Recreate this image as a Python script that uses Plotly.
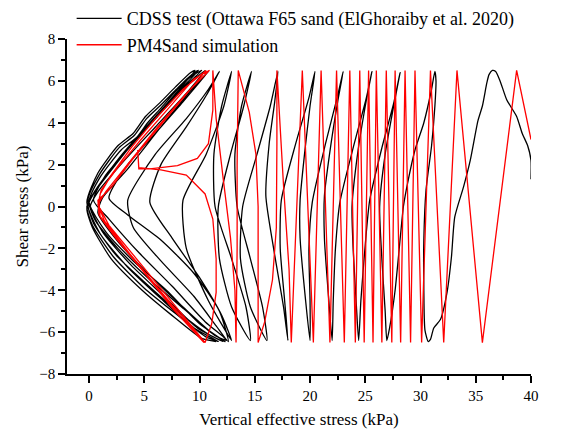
import plotly.graph_objects as go

# ---------------- CDSS test (black) ----------------
black_right_x = [40.0, 40.0, 39.7, 39.2, 38.7, 37.8, 37.2, 36.8, 36.5, 36.2, 36.0, 35.6, 35.2, 34.5, 33.9, 33.1, 32.8, 32.4, 31.8, 31.2, 30.9, 30.7,
                 30.4, 30.3, 30.3, 30.5, 31.0, 31.3, 31.4, 31.3,
                 31.0, 30.3, 29.5, 28.9, 28.45, 28.2, 27.7, 27.2, 26.95,
                 26.8, 26.5, 26.3, 26.8, 27.5, 28.15,
                 27.6, 26.5, 25.4, 25.0, 24.6, 24.4,
                 24.2, 23.9, 23.8, 24.3, 25.0, 25.6,
                 25.1, 24.0, 22.7, 22.3, 22.1, 22.0,
                 21.7, 21.3, 21.3, 21.9, 22.5, 23.0,
                 22.5, 21.4, 20.2, 19.9, 20.0, 20.0,
                 19.6, 19.1, 19.1, 19.5, 20.0, 20.45,
                 19.9, 18.7, 17.4, 17.3, 17.7, 18.0]
black_right_y = [1.3, 2.2, 2.9, 3.5, 4.3, 5.1, 6.0, 6.45, 6.5, 6.3, 5.9, 4.8, 4.1, 2.2, 0.95, -0.5, -2.4, -4.1, -5.4, -5.8, -6.35, -6.45,
                 -5.9, -4.0, -1.6, 0.8, 2.9, 4.8, 6.0, 6.45,
                 5.6, 4.0, 2.7, 1.3, 0.0, -1.3, -4.0, -5.8, -6.4,
                 -5.0, -2.5, 0.0, 2.5, 4.6, 6.4,
                 5.0, 2.8, 0.3, -1.8, -4.5, -6.4,
                 -4.8, -2.0, 0.0, 2.5, 4.8, 6.45,
                 5.2, 3.0, 0.2, -2.0, -4.5, -6.4,
                 -4.5, -1.5, 0.5, 3.0, 5.0, 6.45,
                 5.3, 3.0, 0.2, -2.0, -4.5, -6.4,
                 -4.5, -1.5, 0.3, 2.5, 4.8, 6.45,
                 5.2, 3.0, 0.3, -2.0, -4.5, -6.4]

black_mid_x = [17.6, 16.7, 16.0, 16.3, 16.8, 17.1,
               16.4, 15.2, 13.9, 13.7, 14.6, 16.1,
               15.7, 14.6, 13.4, 13.2, 13.8, 14.7,
               14.0, 12.8, 11.7, 11.8, 12.9, 14.6,
               14.2, 12.9, 11.4, 11.3, 12.0, 12.9,
               12.2, 10.6, 8.5, 8.8, 10.8, 12.9,
               12.0, 10.0, 7.5, 5.5, 6.5, 8.8, 10.6, 11.8,
               10.8, 8.8, 6.0, 3.5, 4.0, 6.5, 9.5, 11.5, 12.6,
               11.8, 9.5, 6.5, 3.5, 1.8, 3.5, 6.0, 8.5, 10.8]
black_mid_y = [-4.8, -2.0, 0.5, 3.0, 5.0, 6.45,
               4.8, 2.5, 0.0, -2.5, -4.8, -6.4,
               -4.8, -2.5, 0.0, 2.5, 4.8, 6.45,
               4.8, 2.5, 0.0, -2.5, -4.8, -6.4,
               -4.8, -2.5, 0.0, 2.5, 4.8, 6.45,
               4.8, 2.5, 0.3, -2.0, -4.5, -6.4,
               -5.2, -3.4, -1.5, 0.2, 2.0, 3.8, 5.3, 6.45,
               5.6, 4.2, 2.5, 0.3, -1.0, -2.6, -4.3, -5.7, -6.45,
               -5.0, -3.2, -1.6, -0.4, 0.4, 2.0, 3.5, 5.0, 6.45]

black_loop_x = [9.3, 6.5, 3.5, 1.2, 0.8, 2.5, 5.5, 8.5, 11.5, 12.5,
                10.5, 7.5, 4.5, 1.8, 0.4, 1.5, 3.8, 6.2, 8.5, 10.5,
                8.8, 6.0, 3.2, 0.8, 0.1, 0.6, 2.6, 5.5, 8.6, 11.0, 12.3,
                10.0, 7.0, 4.0, 1.5, 0.0, 1.0, 2.9, 4.3, 5.3, 6.5, 8.0, 9.5, 10.2,
                8.6, 5.8, 3.0, 0.6, -0.1, 0.4, 2.4, 5.2, 8.0, 10.8, 12.1,
                9.8, 6.8, 3.8, 1.2, -0.1, 0.9, 2.7, 4.1, 5.2, 6.4, 7.9, 9.3, 9.9,
                8.3, 5.5, 2.7, 0.5, -0.2, 0.3, 2.2, 5.0, 7.8, 10.5, 11.7,
                9.5, 6.5, 3.5, 1.0, -0.2, 0.8, 2.6, 4.0, 5.1, 6.3, 7.8, 9.2, 9.6,
                8.0, 5.2, 2.4, 0.4, -0.2, 0.3, 2.0, 4.8, 7.5, 10.2, 11.5]
black_loop_y = [5.6, 3.8, 1.8, 0.4, -0.3, -1.6, -3.3, -4.8, -6.2, -6.4,
                -5.5, -3.8, -2.2, -0.6, 0.3, 1.5, 2.9, 4.3, 5.6, 6.5,
                5.4, 3.8, 2.2, 0.7, 0.0, -0.7, -2.0, -3.5, -4.9, -6.0, -6.45,
                -5.6, -4.0, -2.6, -1.2, 0.2, 1.4, 2.7, 3.3, 4.0, 4.7, 5.6, 6.3, 6.5,
                5.7, 4.1, 2.5, 0.8, 0.1, -0.8, -2.3, -3.7, -5.0, -6.1, -6.45,
                -5.8, -4.3, -2.8, -1.2, 0.3, 1.5, 2.8, 3.4, 4.2, 4.8, 5.6, 6.3, 6.5,
                5.6, 4.0, 2.3, 0.7, 0.0, -0.9, -2.4, -3.9, -5.1, -6.2, -6.45,
                -5.8, -4.4, -2.9, -1.3, 0.2, 1.6, 2.9, 3.5, 4.3, 4.9, 5.7, 6.4, 6.5,
                5.5, 3.8, 2.0, 0.6, -0.1, -1.0, -2.5, -4.0, -5.2, -6.3, -6.45]

# ---------------- PM4Sand simulation (red) ----------------
red_right_x = [40.0, 38.7, 35.6, 33.3, 32.1, 30.9, 30.1, 29.5, 29.1, 28.6, 28.2, 27.7, 27.4, 26.9, 26.5,
               26.0, 25.7, 25.3, 24.9, 24.5, 24.1, 23.6, 23.1, 22.4, 21.8, 21.0, 20.3, 19.3, 18.3]
red_right_y = [3.2, 6.5, -6.5, 6.5, -6.5, 6.5, -6.5, 6.5, -6.5, 6.5, -6.5, 6.5, -6.5, 6.5, -6.5,
               6.5, -6.5, 6.5, -6.5, 6.5, -6.5, 6.5, -6.5, 6.5, -6.5, 6.5, -6.5, 6.5, -6.5]

red_mid_x = [18.1, 17.6, 17.0,
             17.0, 16.95, 16.6, 15.9, 15.3,
             15.3, 15.3, 15.1, 14.5, 13.5,
             13.4, 13.4, 13.35, 13.3,
             13.2, 12.8, 12.1, 11.5, 11.2,
             11.2, 10.8, 9.8, 8.0, 5.5, 4.5, 4.4, 4.5, 6.5, 8.8, 10.5, 11.2, 11.5, 11.5, 11.1, 10.5]
red_mid_y = [-3.0, 1.0, 6.5,
             3.0, -1.0, -3.5, -5.5, -6.5,
             -3.0, 0.0, 2.5, 4.5, 6.5,
             2.0, -2.0, -5.0, -6.5,
             -4.0, -1.5, 1.5, 4.2, 6.5,
             4.6, 3.0, 2.3, 1.95, 1.8, 1.8, 2.7, 1.85, 1.75, 1.5, 0.6, -0.6, -2.5, -4.1, -5.6, -6.5]

red_loop_x = [8.5, 6.0, 3.5, 1.8, 0.9, 1.0, 2.0, 3.8, 6.0, 8.5, 10.6,
              9.0, 6.5, 4.0, 2.0, 0.8, 0.9, 2.5, 5.0, 7.5, 10.5,
              8.3, 5.5, 3.0, 1.4, 0.8, 1.1, 2.5, 4.7, 7.2, 9.5, 10.9,
              8.8, 6.2, 3.5, 1.5, 0.9, 1.0, 2.4, 4.9, 7.6, 10.4]
red_loop_y = [-5.2, -3.6, -2.0, -0.9, 0.0, 0.6, 1.5, 2.8, 4.2, 5.6, 6.5,
              5.5, 3.9, 2.3, 0.9, 0.3, -0.4, -1.5, -3.1, -4.7, -6.5,
              -5.3, -3.5, -1.8, -0.7, 0.1, 0.8, 1.8, 3.2, 4.7, 6.1, 6.5,
              5.4, 3.8, 2.0, 0.7, 0.2, -0.5, -1.5, -3.1, -4.9, -6.5]

black_x = black_right_x + black_mid_x + black_loop_x
black_y = black_right_y + black_mid_y + black_loop_y
red_x = red_right_x + red_mid_x + red_loop_x
red_y = red_right_y + red_mid_y + red_loop_y

serif = "Liberation Serif, Times New Roman, serif"

fig = go.Figure()
fig.add_trace(go.Scatter(x=black_x, y=black_y, mode="lines",
                         name="CDSS test (Ottawa F65 sand (ElGhoraiby et al. 2020)",
                         line=dict(color="#000000", width=1.3, shape="spline", smoothing=0.6)))
fig.add_trace(go.Scatter(x=red_x, y=red_y, mode="lines",
                         name="PM4Sand simulation",
                         line=dict(color="#ff0000", width=1.3)))

axis_common = dict(showline=True, linecolor="black", linewidth=1.5, ticks="outside",
                   ticklen=7, tickwidth=1.5, tickcolor="black", showgrid=False,
                   zeroline=False, mirror=False, automargin=False,
                   tickfont=dict(family=serif, size=15, color="black"))

fig.update_xaxes(range=[-2, 40], tick0=0, dtick=5,
                 minor=dict(dtick=2.5, ticklen=4, tickwidth=1.5, tickcolor="black", ticks="outside", showgrid=False),
                 title=dict(text="Vertical effective stress (kPa)", font=dict(family=serif, size=17, color="black"), standoff=10),
                 **axis_common)
fig.update_yaxes(range=[-8, 8], tick0=0, dtick=2,
                 minor=dict(dtick=1, ticklen=4, tickwidth=1.5, tickcolor="black", ticks="outside", showgrid=False),
                 title=dict(text="Shear stress (kPa)", font=dict(family=serif, size=17, color="black"), standoff=6),
                 **axis_common)

# page body adds an 8px offset, so the figure is 8px smaller with shifted margins
fig.update_layout(width=578, height=422,
                  margin=dict(l=59, r=55, t=31, b=56, autoexpand=False),
                  plot_bgcolor="white", paper_bgcolor="white",
                  showlegend=True,
                  legend=dict(x=0.01, y=1.116, xanchor="left", yanchor="top",
                              bgcolor="rgba(0,0,0,0)", font=dict(family=serif, size=18, color="black"),
                              tracegroupgap=0, itemwidth=45))

fig.write_html("out.html")
